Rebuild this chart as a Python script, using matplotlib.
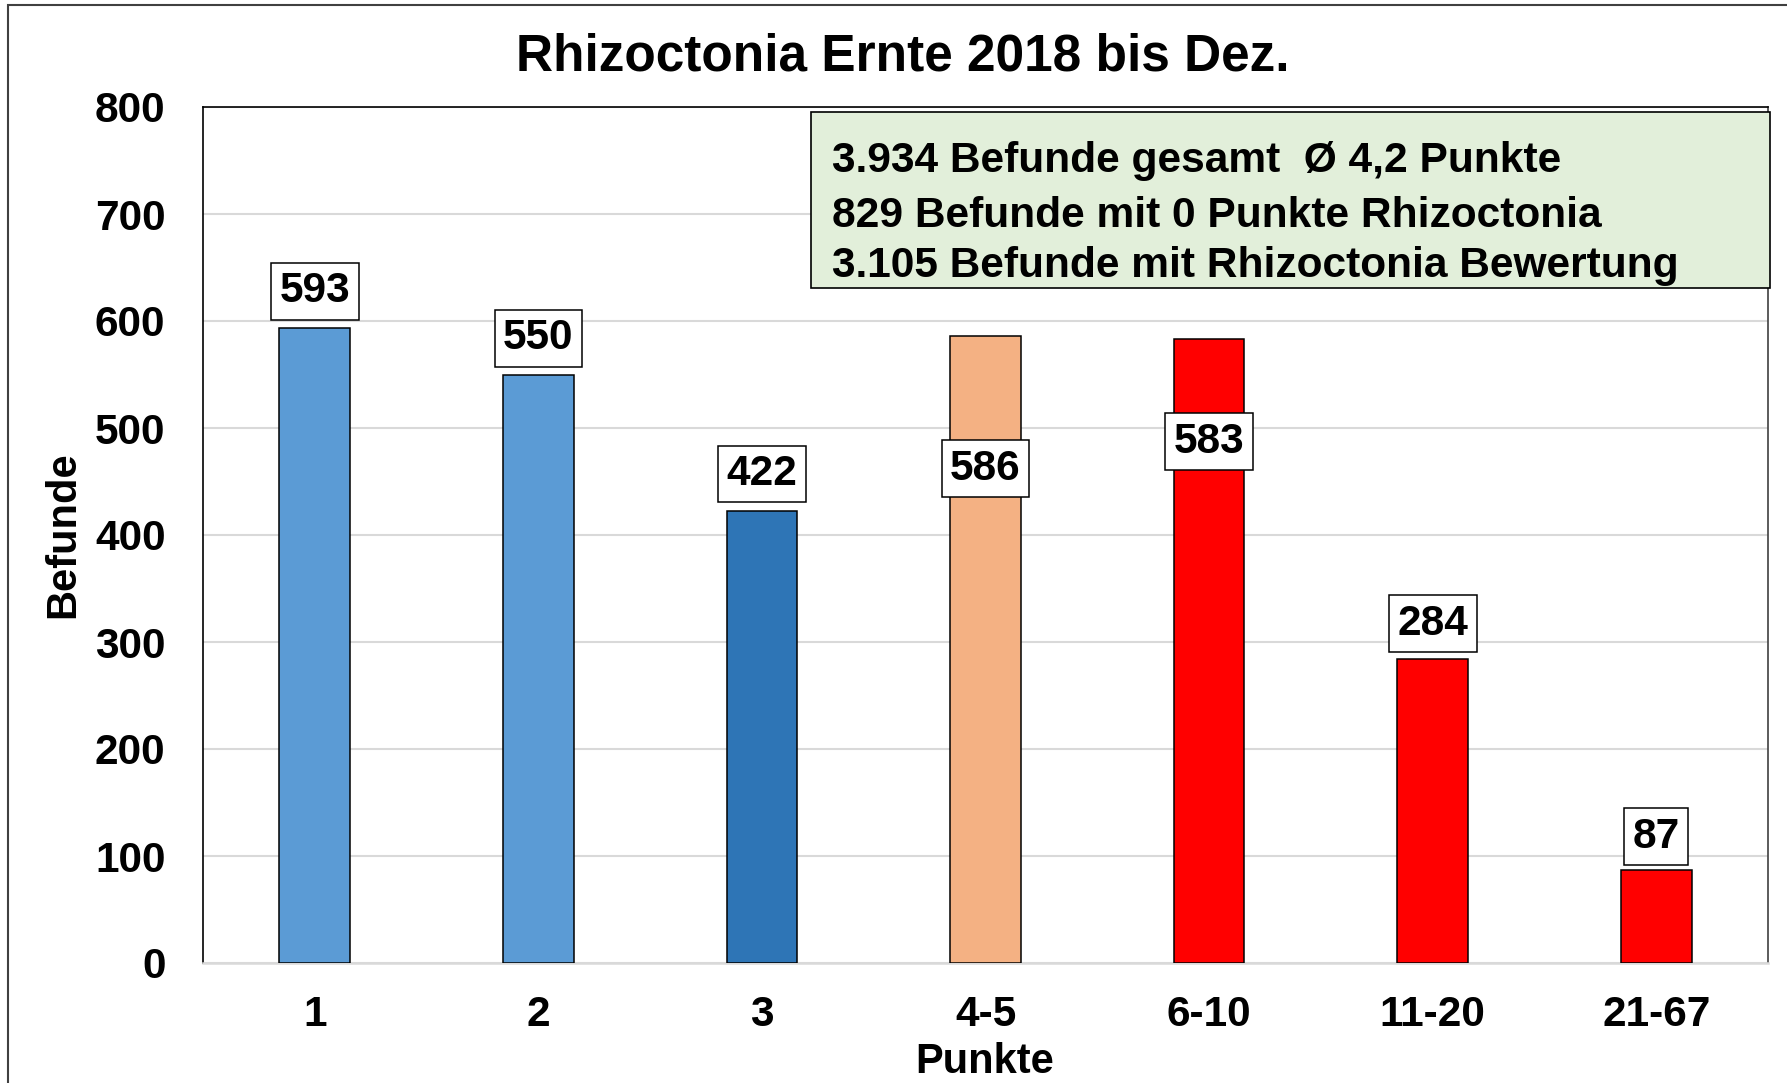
import matplotlib
matplotlib.use("Agg")
import matplotlib.pyplot as plt
from matplotlib.patches import Rectangle

plt.rcParams['font.family'] = ['Liberation Sans', 'DejaVu Sans']
plt.rcParams['font.weight'] = 'bold'

# ---- data ----
categories = ["1", "2", "3", "4-5", "6-10", "11-20", "21-67"]
values = [593, 550, 422, 586, 583, 284, 87]
bar_colors = ["#5B9BD5", "#5B9BD5", "#2E75B6", "#F4B183", "#FF0000", "#FF0000", "#FF0000"]
label_y = [628, 584, 457, 462, 487, 317, 118]   # label anchor positions (data units)
y_ticks = [0, 100, 200, 300, 400, 500, 600, 700, 800]
title = "Rhizoctonia Ernte 2018 bis Dez."
info_lines = ["3.934 Befunde gesamt  Ø 4,2 Punkte",
              "829 Befunde mit 0 Punkte Rhizoctonia",
              "3.105 Befunde mit Rhizoctonia Bewertung"]

W, H = 1787, 1083
fig = plt.figure(figsize=(W / 100, H / 100), dpi=100)
fig.patch.set_facecolor("white")

def fx(px):
    return px / W

def fy(py):
    return 1 - py / H

ax = fig.add_axes([fx(203), fy(963), fx(1768) - fx(203), fy(107) - fy(963)])
x = list(range(len(categories)))
ax.bar(x, values, width=0.316, color=bar_colors, edgecolor="black", linewidth=1.1, zorder=3)
ax.set_xlim(-0.5, len(categories) - 0.5)
ax.set_ylim(0, 800)
ax.set_yticks(y_ticks)
ax.set_yticklabels([str(t) for t in y_ticks])
ax.set_xticks(x)
ax.set_xticklabels(categories)
ax.tick_params(axis="both", length=0, labelsize=30.5)
ax.tick_params(axis="y", pad=27)
ax.tick_params(axis="x", pad=23)
for lab in ax.get_xticklabels() + ax.get_yticklabels():
    lab.set_fontweight("bold")
ax.yaxis.grid(True, color="#D9D9D9", linewidth=1.5, zorder=0)
ax.set_axisbelow(True)
ax.spines["left"].set_color("black")
ax.spines["left"].set_linewidth(1.2)
ax.spines["top"].set_color("black")
ax.spines["top"].set_linewidth(1.2)
ax.spines["right"].set_color("#404040")
ax.spines["right"].set_linewidth(1.2)
ax.spines["bottom"].set_color("#D9D9D9")
ax.spines["bottom"].set_linewidth(1.8)

for xi, v, ly in zip(x, values, label_y):
    ax.text(xi, ly, str(v), ha="center", va="center", fontsize=30.5, fontweight="bold",
            zorder=5,
            bbox=dict(boxstyle="square,pad=0.2", facecolor="white", edgecolor="black", linewidth=1.1))

# info box
box = Rectangle((fx(811), fy(288)), fx(1770) - fx(811), fy(112) - fy(288),
                transform=fig.transFigure, facecolor="#E2EFDA", edgecolor="black",
                linewidth=1.2, zorder=10)
fig.patches.append(box)
for line, py in zip(info_lines, [161, 216, 266]):
    fig.text(fx(832), fy(py), line, ha="left", va="center", fontsize=30.6,
             fontweight="bold", zorder=11)

# title and axis labels
fig.text(fx(903), fy(57), title, ha="center", va="center", fontsize=37, fontweight="bold")
fig.text(fx(63), fy(535), "Befunde", ha="center", va="center", rotation=90,
         fontsize=30, fontweight="bold")
fig.text(fx(985), fy(1062), "Punkte", ha="center", va="center", fontsize=30, fontweight="bold")

# outer frame (extends beyond canvas at right/bottom)
frame = Rectangle((fx(8), fy(1100)), fx(1800) - fx(8), fy(5) - fy(1100),
                  transform=fig.transFigure, facecolor="none", edgecolor="#404040",
                  linewidth=1.5, zorder=20, clip_on=False)
fig.patches.append(frame)

fig.savefig("out.png", dpi=100)
